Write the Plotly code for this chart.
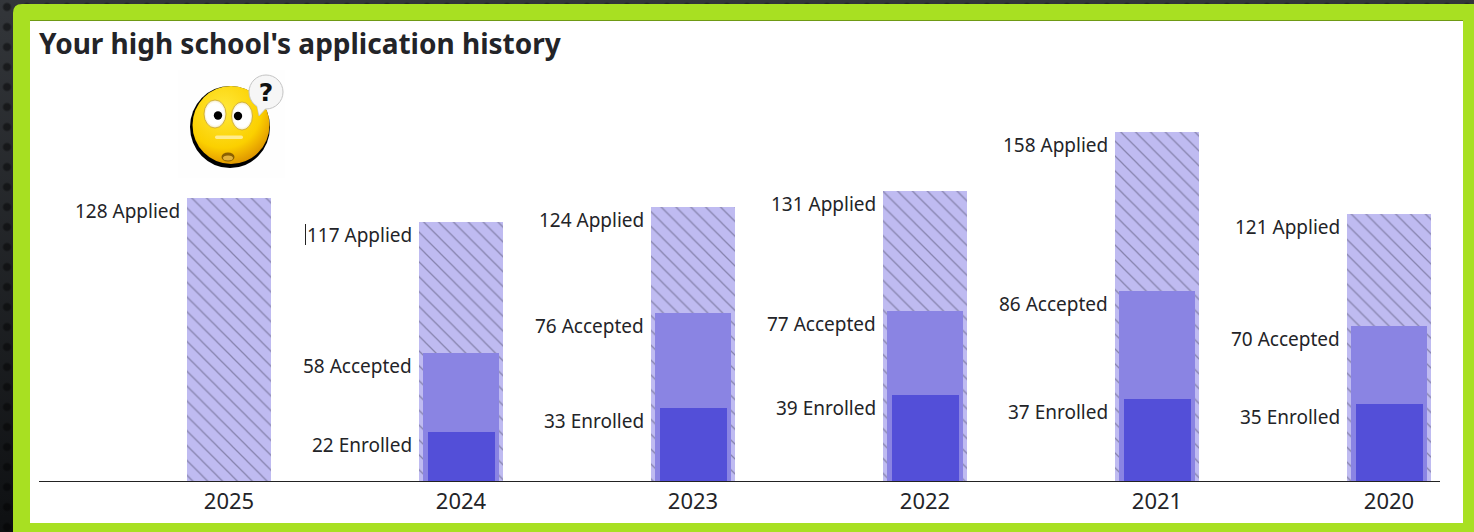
import base64
import plotly.graph_objects as go

years = ["2025", "2024", "2023", "2022", "2021", "2020"]
applied = [128, 117, 124, 131, 158, 121]
accepted = [None, 58, 76, 77, 86, 70]
enrolled = [None, 22, 33, 39, 37, 35]
title_text = "Your high school's application history"

W, H = 1474, 532
L, R, T, B = 39, 1440, 60, 481
FONT = "Noto Sans"
INK = "#232428"


def px(x):
    return (x - L) / (R - L)


def py(y):
    return (B - y) / (B - T)


emoji_svg = """<svg xmlns="http://www.w3.org/2000/svg" viewBox="0 0 107 108" width="107" height="108">
<defs>
<radialGradient id="f" cx="40%" cy="30%" r="75%"><stop offset="0" stop-color="#ffe83a"/><stop offset=".66" stop-color="#fbd000"/><stop offset=".8" stop-color="#f0b400"/><stop offset="1" stop-color="#d98e00"/></radialGradient>
<radialGradient id="e" cx="50%" cy="50%" r="55%"><stop offset=".72" stop-color="#fff"/><stop offset="1" stop-color="#efdf9a"/></radialGradient>
</defs>
<rect width="107" height="108" fill="#fefefe"/>
<ellipse cx="52" cy="57" rx="40" ry="41" fill="#000"/>
<ellipse cx="53" cy="55" rx="38.500" ry="39" fill="url(#f)"/>
<ellipse cx="37" cy="44" rx="11" ry="14" fill="url(#e)" stroke="#c9a52a" stroke-width=".8"/>
<ellipse cx="64" cy="46" rx="10.500" ry="14" fill="url(#e)" stroke="#c9a52a" stroke-width=".8"/>
<circle cx="40" cy="45.500" r="4.200" fill="#000"/>
<circle cx="60" cy="46" r="4.200" fill="#000"/>
<rect x="37" y="65.500" width="28" height="3.500" rx="1.700" fill="#ffec90"/>
<ellipse cx="50" cy="87" rx="6.500" ry="4.500" fill="#8a6000"/>
<ellipse cx="50" cy="88" rx="5" ry="2.500" fill="#e3b23a"/>
<path d="M78 30 L81 46 L90 36 Z" fill="#f2f2f2" stroke="#c4c4c4" stroke-width=".8"/>
<circle cx="88" cy="22" r="17" fill="#f6f6f6" stroke="#c4c4c4" stroke-width="1"/>
<path d="M78 31 L81 44 L89 37 Z" fill="#f6f6f6"/>
<text x="88" y="31" font-family="DejaVu Sans" font-weight="bold" font-size="25" text-anchor="middle" fill="#111">?</text>
</svg>"""
emoji_uri = "data:image/svg+xml;base64," + base64.b64encode(emoji_svg.encode()).decode()

PX_PER_CAT = 232
fig = go.Figure()
fig.add_bar(
    x=years, y=applied, width=84 / PX_PER_CAT, name="Applied",
    marker=dict(color="#bfbbf1", line_width=0,
                pattern=dict(shape="\\", size=10.5, solidity=0.12,
                             fgcolor="#8683ad", fgopacity=1, bgcolor="#bfbbf1", fillmode="replace")),
)
fig.add_bar(x=years, y=accepted, width=76 / PX_PER_CAT, name="Accepted",
            marker=dict(color="#8a84e3", line_width=0))
fig.add_bar(x=years, y=enrolled, width=67 / PX_PER_CAT, name="Enrolled",
            marker=dict(color="#534fd8", line_width=0))

annotations = []
for name, series in (("Applied", applied), ("Accepted", accepted), ("Enrolled", enrolled)):
    for i, value in enumerate(series):
        if value is None:
            continue
        annotations.append(dict(
            x=i, y=value, xref="x", yref="y", text=f"{value} {name}",
            showarrow=False, xanchor="right", yanchor="middle",
            xshift=-47, yshift=-13,
            font=dict(family=FONT, size=19, color=INK),
        ))
annotations.append(dict(
    x=px(37), y=py(43), xref="paper", yref="paper", text=f"<b>{title_text}</b>",
    showarrow=False, xanchor="left", yanchor="middle",
    font=dict(family=FONT, size=28, color=INK),
))


def rounded(x0, y0, x1, y1, r):
    a, b, c, d = px(x0), py(y0), px(x1), py(y1)
    rx = r / (R - L)
    ry = r / (B - T)
    return (f"M {a} {d} L {a} {b - ry} Q {a} {b} {a + rx} {b} L {c} {b} L {c} {d} Z")


shapes = [
    dict(type="path", path=rounded(13, 4, W + 2, H + 2, 9), xref="paper", yref="paper",
         fillcolor="#a8e022", line_width=0, layer="below"),
    dict(type="rect", xref="paper", yref="paper", x0=px(30), x1=px(1463), y0=py(20.5), y1=py(523),
         fillcolor="#ffffff", line_width=0, layer="below"),
    dict(type="line", xref="paper", yref="paper", x0=px(30), x1=px(1463), y0=py(20.5), y1=py(20.5),
         line=dict(color="#6f9a14", width=1), layer="below"),
    dict(type="line", xref="paper", yref="paper", x0=px(305.5), x1=px(305.5), y0=py(224), y1=py(245),
         line=dict(color="#222222", width=1)),
]

fig.update_layout(
    width=W, height=H,
    margin=dict(l=L, r=W - R, t=T, b=H - B, pad=0),
    barmode="overlay", bargap=0, showlegend=False,
    paper_bgcolor="rgba(0,0,0,0)", plot_bgcolor="rgba(0,0,0,0)",
    xaxis=dict(type="category", categoryorder="array", categoryarray=years,
               range=[(L - 229) / PX_PER_CAT, (R - 229) / PX_PER_CAT],
               showline=True, linecolor="#222222", linewidth=1, ticks="",
               showgrid=False, zeroline=False, ticklabelstandoff=1,
               tickfont=dict(family=FONT, size=22, color=INK)),
    yaxis=dict(range=[0, (B - T) / 2.21], visible=False, showgrid=False, zeroline=False),
    annotations=annotations,
    shapes=shapes,
    images=[dict(source=emoji_uri, xref="paper", yref="paper", x=px(178), y=py(70),
                 sizex=107 / (R - L), sizey=108 / (B - T), xanchor="left", yanchor="top",
                 sizing="stretch", layer="above")],
)

post = """
document.documentElement.style.height='100%';
document.body.style.margin='0';
document.body.style.overflow='hidden';
document.body.style.backgroundColor='#1b1d20';
document.body.style.backgroundImage="radial-gradient(circle at 7px 7px, rgba(0,0,0,.45) 0 3px, transparent 5px), linear-gradient(#33363a, #0e1012)";
document.body.style.backgroundSize="20px 20px, 100% 100%";
"""
fig.write_html("out.html", post_script=post, config=dict(displayModeBar=False))
